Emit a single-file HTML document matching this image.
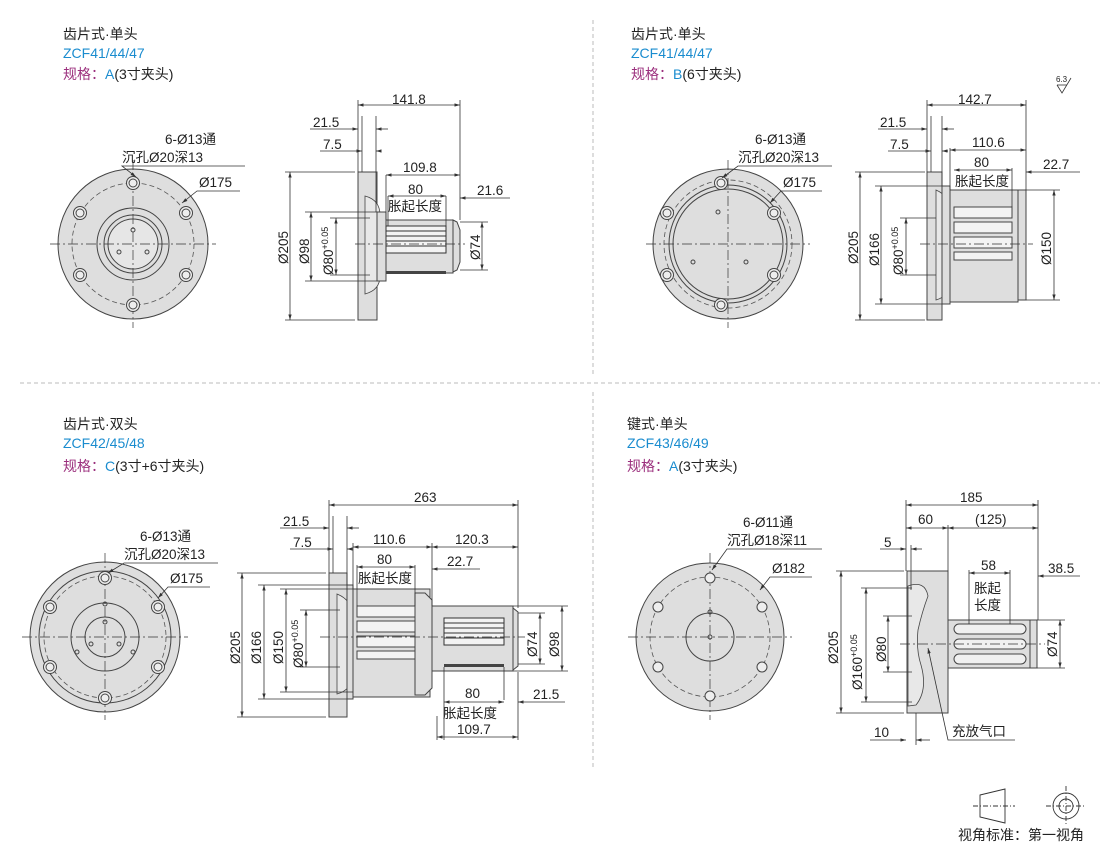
<!DOCTYPE html>
<html><head><meta charset="utf-8"><style>
body{margin:0;background:#fff;width:1110px;height:851px;overflow:hidden}
svg{display:block}
text{font-family:"Liberation Sans","Noto Sans CJK SC",sans-serif;fill:#222}
.t{font-size:14px}
.d{font-size:13.5px}
.b{fill:#1a8ccf}
.p{fill:#9b2f7d}
.ln{stroke:#333;stroke-width:0.8;fill:none}
.ol{stroke:#444;stroke-width:1;fill:#dedede}
.w{stroke:#444;stroke-width:1;fill:#f2f2f2}
.cl{stroke:#333;stroke-width:0.7;stroke-dasharray:10 3 2 3;fill:none}
.dc{stroke:#555;stroke-width:0.8;stroke-dasharray:5 3;fill:none}
.sep{stroke:#bbb;stroke-width:1;stroke-dasharray:4 3}
</style></head><body>
<svg width="1110" height="851" viewBox="0 0 1110 851">
<defs>
<marker id="a" viewBox="0 0 10 10" refX="10" refY="5" markerWidth="7" markerHeight="7" orient="auto-start-reverse"><path d="M0,2L10,5L0,8z" fill="#333"/></marker>
<g id="hole"><circle r="6.5" fill="#eee" stroke="#444"/><circle r="4" fill="none" stroke="#444"/></g>
</defs>
<line x1="20" y1="383" x2="1100" y2="383" class="sep"/>
<line x1="593" y1="20" x2="593" y2="375" class="sep"/>
<line x1="593" y1="392" x2="593" y2="770" class="sep"/>

<!-- Titles -->
<text x="63" y="39" class="t">齿片式·单头</text>
<text x="63" y="58" class="t b">ZCF41/44/47</text>
<text x="63" y="79" class="t p">规格：<tspan class="b">A</tspan><tspan fill="#222">(3寸夹头)</tspan></text>
<text x="631" y="39" class="t">齿片式·单头</text>
<text x="631" y="58" class="t b">ZCF41/44/47</text>
<text x="631" y="79" class="t p">规格：<tspan class="b">B</tspan><tspan fill="#222">(6寸夹头)</tspan></text>
<text x="63" y="429" class="t">齿片式·双头</text>
<text x="63" y="448" class="t b">ZCF42/45/48</text>
<text x="63" y="471" class="t p">规格：<tspan class="b">C</tspan><tspan fill="#222">(3寸+6寸夹头)</tspan></text>
<text x="627" y="429" class="t">键式·单头</text>
<text x="627" y="448" class="t b">ZCF43/46/49</text>
<text x="627" y="471" class="t p">规格：<tspan class="b">A</tspan><tspan fill="#222">(3寸夹头)</tspan></text>

<!-- Q1 front -->
<g>
<circle cx="133" cy="244" r="75" class="ol"/>
<circle cx="133" cy="244" r="61" class="dc"/>
<circle cx="133" cy="244" r="36" class="ol"/>
<circle cx="133" cy="244" r="29" class="ol"/>
<circle cx="133" cy="244" r="25" fill="#e6e6e6" stroke="#444"/>
<line x1="50" y1="244" x2="216" y2="244" class="cl"/>
<line x1="133" y1="160" x2="133" y2="328" class="cl"/>
<use href="#hole" x="133" y="183"/><use href="#hole" x="133" y="305"/>
<use href="#hole" x="80" y="213"/><use href="#hole" x="186" y="213"/>
<use href="#hole" x="80" y="275"/><use href="#hole" x="186" y="275"/>
<circle cx="133" cy="230" r="2" fill="none" stroke="#444"/><circle cx="119" cy="252" r="2" fill="none" stroke="#444"/><circle cx="147" cy="252" r="2" fill="none" stroke="#444"/>
<text x="165" y="144" class="d">6-Ø13通</text>
<text x="122" y="162" class="d">沉孔Ø20深13</text>
<polyline points="245,166 122,166 136,177" class="ln" marker-end="url(#a)"/>
<text x="199" y="187" class="d">Ø175</text>
<polyline points="240,191 197,191 182,203" class="ln" marker-end="url(#a)"/>
</g>
<!-- Q1 side -->
<g>
<rect x="358" y="172" width="19" height="148" class="ol"/>
<path d="M365,196 Q380,200 380,215 L380,276 Q380,290 365,294 Z" fill="#e8e8e8" stroke="#444" stroke-width="0.8"/>
<rect x="377" y="212" width="9" height="69" class="ol"/>
<rect x="386" y="220" width="67" height="53" class="ol"/>
<rect x="386" y="226" width="60" height="27" fill="#f3f3f3" stroke="#333"/>
<g stroke="#333" stroke-width="1"><line x1="386" y1="231" x2="446" y2="231"/><line x1="386" y1="236" x2="446" y2="236"/><line x1="386" y1="241" x2="446" y2="241"/><line x1="386" y1="246" x2="446" y2="246"/></g>
<rect x="386" y="271" width="60" height="3" fill="#444"/>
<path d="M453,220 L457,222 L460,230 L460,262 L457,270 L453,272 Z" class="ol"/>
<line x1="355" y1="244" x2="465" y2="244" class="cl"/>
<line x1="358" y1="100" x2="358" y2="172" class="ln"/><line x1="460" y1="100" x2="460" y2="220" class="ln"/>
<line x1="358" y1="105" x2="460" y2="105" class="ln" marker-start="url(#a)" marker-end="url(#a)"/>
<text x="392" y="104" class="d">141.8</text>
<line x1="362" y1="116" x2="362" y2="172" class="ln"/><line x1="376" y1="116" x2="376" y2="212" class="ln"/>
<line x1="310" y1="129" x2="358" y2="129" class="ln" marker-end="url(#a)"/><line x1="388" y1="129" x2="376" y2="129" class="ln" marker-end="url(#a)"/>
<text x="313" y="127" class="d">21.5</text>
<line x1="320" y1="151" x2="362" y2="151" class="ln" marker-end="url(#a)"/><line x1="381" y1="151" x2="376" y2="151" class="ln" marker-end="url(#a)"/>
<text x="323" y="149" class="d">7.5</text>
<line x1="386" y1="175" x2="386" y2="220" class="ln"/>
<line x1="386" y1="175" x2="460" y2="175" class="ln" marker-start="url(#a)" marker-end="url(#a)"/>
<text x="403" y="172" class="d">109.8</text>
<line x1="388" y1="196" x2="446" y2="196" class="ln" marker-start="url(#a)" marker-end="url(#a)"/>
<line x1="388" y1="196" x2="388" y2="226" class="ln"/><line x1="446" y1="196" x2="446" y2="226" class="ln"/>
<text x="408" y="194" class="d">80</text>
<text x="388" y="211" class="d">胀起长度</text>
<line x1="510" y1="198" x2="460" y2="198" class="ln" marker-end="url(#a)"/>
<text x="477" y="195" class="d">21.6</text>
<line x1="355" y1="172" x2="285" y2="172" class="ln"/><line x1="355" y1="320" x2="285" y2="320" class="ln"/>
<line x1="290" y1="172" x2="290" y2="320" class="ln" marker-start="url(#a)" marker-end="url(#a)"/>
<text transform="translate(288,264) rotate(-90)" class="d">Ø205</text>
<line x1="377" y1="212" x2="305" y2="212" class="ln"/><line x1="377" y1="281" x2="305" y2="281" class="ln"/>
<line x1="311" y1="212" x2="311" y2="281" class="ln" marker-start="url(#a)" marker-end="url(#a)"/>
<text transform="translate(309,264) rotate(-90)" class="d">Ø98</text>
<line x1="370" y1="218" x2="330" y2="218" class="ln"/><line x1="370" y1="275" x2="330" y2="275" class="ln"/>
<line x1="336" y1="218" x2="336" y2="275" class="ln" marker-start="url(#a)" marker-end="url(#a)"/>
<text transform="translate(333,275) rotate(-90)" class="d">Ø80<tspan font-size="9" dy="-5">+0.05</tspan></text>
<line x1="460" y1="222" x2="488" y2="222" class="ln"/><line x1="460" y1="270" x2="488" y2="270" class="ln"/>
<line x1="482" y1="222" x2="482" y2="270" class="ln" marker-start="url(#a)" marker-end="url(#a)"/>
<text transform="translate(480,260) rotate(-90)" class="d">Ø74</text>
</g>

<!-- Q2 front -->
<g>
<circle cx="728" cy="244" r="75" class="ol"/>
<circle cx="728" cy="244" r="64" class="dc"/>
<circle cx="728" cy="244" r="59" class="ol"/>
<circle cx="728" cy="244" r="55" class="ol"/>
<line x1="646" y1="244" x2="810" y2="244" class="cl"/>
<line x1="728" y1="160" x2="728" y2="328" class="cl"/>
<use href="#hole" x="721" y="183"/><use href="#hole" x="721" y="305"/>
<use href="#hole" x="667" y="213"/><use href="#hole" x="774" y="275"/>
<use href="#hole" x="667" y="275"/><use href="#hole" x="774" y="213"/>
<circle cx="718" cy="212" r="2" fill="none" stroke="#444"/><circle cx="693" cy="262" r="2" fill="none" stroke="#444"/><circle cx="746" cy="262" r="2" fill="none" stroke="#444"/>
<text x="755" y="144" class="d">6-Ø13通</text>
<text x="738" y="162" class="d">沉孔Ø20深13</text>
<polyline points="832,166 738,166 722,178" class="ln" marker-end="url(#a)"/>
<text x="783" y="187" class="d">Ø175</text>
<polyline points="822,191 781,191 770,203" class="ln" marker-end="url(#a)"/>
</g>
<!-- Q2 side -->
<g>
<rect x="927" y="172" width="15" height="148" class="ol"/>
<path d="M936,190 Q950,196 950,212 L950,282 Q950,296 936,300 Z" fill="#e8e8e8" stroke="#444" stroke-width="0.8"/>
<rect x="942" y="186" width="8" height="118" class="ol"/>
<rect x="950" y="190" width="68" height="112" class="ol"/>
<g stroke="#444" fill="#f3f3f3"><rect x="954" y="207" width="58" height="11"/><rect x="954" y="222" width="58" height="11"/><rect x="954" y="237" width="58" height="11"/><rect x="954" y="252" width="58" height="8"/></g>
<rect x="1018" y="190" width="8" height="110" class="ol"/>
<line x1="920" y1="244" x2="1033" y2="244" class="cl"/>
<line x1="927" y1="100" x2="927" y2="172" class="ln"/><line x1="1026" y1="100" x2="1026" y2="190" class="ln"/>
<line x1="927" y1="105" x2="1026" y2="105" class="ln" marker-start="url(#a)" marker-end="url(#a)"/>
<text x="958" y="104" class="d">142.7</text>
<line x1="931" y1="116" x2="931" y2="172" class="ln"/><line x1="942" y1="116" x2="942" y2="186" class="ln"/>
<line x1="878" y1="129" x2="927" y2="129" class="ln" marker-end="url(#a)"/><line x1="954" y1="129" x2="942" y2="129" class="ln" marker-end="url(#a)"/>
<text x="880" y="127" class="d">21.5</text>
<line x1="888" y1="151" x2="931" y2="151" class="ln" marker-end="url(#a)"/><line x1="948" y1="151" x2="942" y2="151" class="ln" marker-end="url(#a)"/>
<text x="890" y="149" class="d">7.5</text>
<line x1="950" y1="148" x2="950" y2="190" class="ln"/>
<line x1="950" y1="150" x2="1026" y2="150" class="ln" marker-start="url(#a)" marker-end="url(#a)"/>
<text x="972" y="147" class="d">110.6</text>
<line x1="954" y1="170" x2="1012" y2="170" class="ln" marker-start="url(#a)" marker-end="url(#a)"/>
<line x1="1012" y1="168" x2="1012" y2="207" class="ln"/>
<text x="974" y="167" class="d">80</text>
<text x="955" y="186" class="d">胀起长度</text>
<line x1="1080" y1="172" x2="1026" y2="172" class="ln" marker-end="url(#a)"/>
<text x="1043" y="169" class="d">22.7</text>
<line x1="925" y1="172" x2="855" y2="172" class="ln"/><line x1="925" y1="320" x2="855" y2="320" class="ln"/>
<line x1="860" y1="172" x2="860" y2="320" class="ln" marker-start="url(#a)" marker-end="url(#a)"/>
<text transform="translate(858,264) rotate(-90)" class="d">Ø205</text>
<line x1="942" y1="186" x2="875" y2="186" class="ln"/><line x1="942" y1="304" x2="875" y2="304" class="ln"/>
<line x1="881" y1="186" x2="881" y2="304" class="ln" marker-start="url(#a)" marker-end="url(#a)"/>
<text transform="translate(879,266) rotate(-90)" class="d">Ø166</text>
<line x1="936" y1="218" x2="900" y2="218" class="ln"/><line x1="936" y1="275" x2="900" y2="275" class="ln"/>
<line x1="906" y1="218" x2="906" y2="275" class="ln" marker-start="url(#a)" marker-end="url(#a)"/>
<text transform="translate(903,275) rotate(-90)" class="d">Ø80<tspan font-size="9" dy="-5">+0.05</tspan></text>
<line x1="1026" y1="190" x2="1060" y2="190" class="ln"/><line x1="1026" y1="300" x2="1060" y2="300" class="ln"/>
<line x1="1054" y1="190" x2="1054" y2="300" class="ln" marker-start="url(#a)" marker-end="url(#a)"/>
<text transform="translate(1051,265) rotate(-90)" class="d">Ø150</text>
<text x="1056" y="82" font-size="8">6.3</text>
<polyline points="1057,85 1062,93 1071,78" fill="none" stroke="#333" stroke-width="0.8"/>
<line x1="1057" y1="85" x2="1067" y2="85" stroke="#333" stroke-width="0.8"/>
</g>

<!-- Q3 front -->
<g>
<circle cx="105" cy="637" r="75" class="ol"/>
<circle cx="105" cy="637" r="66" class="ol"/>
<circle cx="105" cy="637" r="61" class="dc"/>
<circle cx="105" cy="637" r="34" class="ol"/>
<circle cx="105" cy="637" r="20" class="ol"/>
<line x1="22" y1="637" x2="188" y2="637" class="cl"/>
<line x1="105" y1="553" x2="105" y2="720" class="cl"/>
<use href="#hole" x="105" y="578"/><use href="#hole" x="105" y="698"/>
<use href="#hole" x="50" y="607"/><use href="#hole" x="158" y="607"/>
<use href="#hole" x="50" y="667"/><use href="#hole" x="158" y="667"/>
<circle cx="105" cy="604" r="2" fill="none" stroke="#444"/><circle cx="77" cy="652" r="2" fill="none" stroke="#444"/><circle cx="133" cy="652" r="2" fill="none" stroke="#444"/>
<circle cx="105" cy="622" r="2" fill="none" stroke="#444"/><circle cx="91" cy="644" r="2" fill="none" stroke="#444"/><circle cx="119" cy="644" r="2" fill="none" stroke="#444"/>
<text x="140" y="541" class="d">6-Ø13通</text>
<text x="124" y="559" class="d">沉孔Ø20深13</text>
<polyline points="218,563 124,563 108,573" class="ln" marker-end="url(#a)"/>
<text x="170" y="583" class="d">Ø175</text>
<polyline points="210,587 168,587 158,598" class="ln" marker-end="url(#a)"/>
</g>
<!-- Q3 side -->
<g>
<rect x="329" y="573" width="18" height="144" class="ol"/>
<path d="M337,594 Q352,600 352,615 L352,675 Q352,690 337,694 Z" fill="#e8e8e8" stroke="#444" stroke-width="0.8"/>
<rect x="347" y="585" width="6" height="114" class="ol"/>
<rect x="353" y="589" width="77" height="108" class="ol"/>
<g stroke="#444" fill="#f3f3f3"><rect x="357" y="606" width="58" height="11"/><rect x="357" y="621" width="58" height="11"/><rect x="357" y="636" width="58" height="11"/><rect x="357" y="651" width="58" height="8"/></g>
<path d="M415,593 L425,593 L432,600 L432,688 L425,695 L415,695 Z" class="ol"/>
<rect x="432" y="606" width="81" height="65" class="ol"/>
<rect x="444" y="618" width="60" height="27" fill="#f3f3f3" stroke="#333"/>
<g stroke="#333"><line x1="444" y1="623" x2="504" y2="623"/><line x1="444" y1="628" x2="504" y2="628"/><line x1="444" y1="633" x2="504" y2="633"/><line x1="444" y1="638" x2="504" y2="638"/></g>
<rect x="444" y="664" width="60" height="3" fill="#444"/>
<path d="M513,608 L518,612 L518,666 L513,670 Z" class="ol"/>
<line x1="320" y1="637" x2="525" y2="637" class="cl"/>
<line x1="329" y1="500" x2="329" y2="573" class="ln"/><line x1="518" y1="500" x2="518" y2="608" class="ln"/>
<line x1="329" y1="505" x2="518" y2="505" class="ln" marker-start="url(#a)" marker-end="url(#a)"/>
<text x="414" y="502" class="d">263</text>
<line x1="333" y1="516" x2="333" y2="573" class="ln"/><line x1="347" y1="516" x2="347" y2="585" class="ln"/>
<line x1="280" y1="528" x2="329" y2="528" class="ln" marker-end="url(#a)"/><line x1="359" y1="528" x2="347" y2="528" class="ln" marker-end="url(#a)"/>
<text x="283" y="526" class="d">21.5</text>
<line x1="290" y1="549" x2="333" y2="549" class="ln" marker-end="url(#a)"/><line x1="352" y1="549" x2="347" y2="549" class="ln" marker-end="url(#a)"/>
<text x="293" y="547" class="d">7.5</text>
<line x1="353" y1="543" x2="353" y2="589" class="ln"/><line x1="432" y1="543" x2="432" y2="606" class="ln"/>
<line x1="353" y1="547" x2="432" y2="547" class="ln" marker-start="url(#a)" marker-end="url(#a)"/>
<line x1="432" y1="547" x2="518" y2="547" class="ln" marker-start="url(#a)" marker-end="url(#a)"/>
<text x="373" y="544" class="d">110.6</text><text x="455" y="544" class="d">120.3</text>
<line x1="357" y1="567" x2="415" y2="567" class="ln" marker-start="url(#a)" marker-end="url(#a)"/>
<line x1="415" y1="565" x2="415" y2="606" class="ln"/><line x1="357" y1="565" x2="357" y2="606" class="ln"/>
<text x="377" y="564" class="d">80</text>
<text x="358" y="583" class="d">胀起长度</text>
<line x1="480" y1="569" x2="432" y2="569" class="ln" marker-end="url(#a)"/>
<text x="447" y="566" class="d">22.7</text>
<line x1="444" y1="667" x2="444" y2="740" class="ln"/><line x1="504" y1="667" x2="504" y2="700" class="ln"/><line x1="518" y1="672" x2="518" y2="740" class="ln"/>
<line x1="444" y1="702" x2="504" y2="702" class="ln" marker-start="url(#a)" marker-end="url(#a)"/>
<text x="465" y="698" class="d">80</text>
<text x="443" y="718" class="d">胀起长度</text>
<line x1="565" y1="702" x2="518" y2="702" class="ln" marker-end="url(#a)"/>
<text x="533" y="699" class="d">21.5</text>
<line x1="437" y1="737" x2="518" y2="737" class="ln" marker-start="url(#a)" marker-end="url(#a)"/>
<line x1="437" y1="716" x2="437" y2="740" class="ln"/>
<text x="457" y="734" class="d">109.7</text>
<line x1="326" y1="573" x2="237" y2="573" class="ln"/><line x1="326" y1="717" x2="237" y2="717" class="ln"/>
<line x1="242" y1="573" x2="242" y2="717" class="ln" marker-start="url(#a)" marker-end="url(#a)"/>
<text transform="translate(240,664) rotate(-90)" class="d">Ø205</text>
<line x1="347" y1="585" x2="258" y2="585" class="ln"/><line x1="347" y1="699" x2="258" y2="699" class="ln"/>
<line x1="264" y1="585" x2="264" y2="699" class="ln" marker-start="url(#a)" marker-end="url(#a)"/>
<text transform="translate(261,664) rotate(-90)" class="d">Ø166</text>
<line x1="353" y1="589" x2="280" y2="589" class="ln"/><line x1="353" y1="692" x2="280" y2="692" class="ln"/>
<line x1="286" y1="589" x2="286" y2="692" class="ln" marker-start="url(#a)" marker-end="url(#a)"/>
<text transform="translate(283,664) rotate(-90)" class="d">Ø150</text>
<line x1="340" y1="610" x2="300" y2="610" class="ln"/><line x1="340" y1="667" x2="300" y2="667" class="ln"/>
<line x1="306" y1="610" x2="306" y2="667" class="ln" marker-start="url(#a)" marker-end="url(#a)"/>
<text transform="translate(303,668) rotate(-90)" class="d">Ø80<tspan font-size="9" dy="-5">+0.05</tspan></text>
<line x1="518" y1="613" x2="545" y2="613" class="ln"/><line x1="518" y1="664" x2="545" y2="664" class="ln"/>
<line x1="540" y1="613" x2="540" y2="664" class="ln" marker-start="url(#a)" marker-end="url(#a)"/>
<text transform="translate(537,657) rotate(-90)" class="d">Ø74</text>
<line x1="513" y1="606" x2="568" y2="606" class="ln"/><line x1="513" y1="671" x2="568" y2="671" class="ln"/>
<line x1="562" y1="606" x2="562" y2="671" class="ln" marker-start="url(#a)" marker-end="url(#a)"/>
<text transform="translate(559,657) rotate(-90)" class="d">Ø98</text>
</g>

<!-- Q4 front -->
<g>
<circle cx="710" cy="637" r="74" class="ol"/>
<circle cx="710" cy="637" r="60" class="dc"/>
<circle cx="710" cy="637" r="24" class="ol"/>
<line x1="628" y1="637" x2="792" y2="637" class="cl"/>
<line x1="710" y1="553" x2="710" y2="720" class="cl"/>
<g fill="#eee" stroke="#444"><circle cx="710" cy="578" r="5"/><circle cx="710" cy="696" r="5"/><circle cx="658" cy="607" r="5"/><circle cx="762" cy="607" r="5"/><circle cx="658" cy="667" r="5"/><circle cx="762" cy="667" r="5"/></g>
<circle cx="710" cy="612" r="2" fill="none" stroke="#444"/><circle cx="710" cy="637" r="2" fill="none" stroke="#444"/>
<text x="743" y="527" class="d">6-Ø11通</text>
<text x="727" y="545" class="d">沉孔Ø18深11</text>
<polyline points="822,549 727,549 712,570" class="ln" marker-end="url(#a)"/>
<text x="772" y="573" class="d">Ø182</text>
<polyline points="812,577 770,577 760,590" class="ln" marker-end="url(#a)"/>
</g>
<!-- Q4 side -->
<g>
<rect x="907" y="571" width="41" height="142" class="ol"/>
<path d="M908,586 Q925,580 928,596 Q922,612 918,630 Q916,650 921,665 Q928,690 916,705 L908,706 Z" fill="#e8e8e8" stroke="#444" stroke-width="0.8"/>
<rect x="948" y="620" width="82" height="48" class="ol"/>
<g fill="#f0f0f0" stroke="#444"><rect x="954" y="624" width="72" height="10" rx="5"/><rect x="954" y="639" width="72" height="10" rx="5"/><rect x="954" y="654" width="72" height="10" rx="5"/></g>
<rect x="1030" y="620" width="7" height="48" class="ol"/>
<line x1="900" y1="644" x2="1045" y2="644" class="cl"/>
<line x1="906" y1="500" x2="906" y2="571" class="ln"/><line x1="1038" y1="500" x2="1038" y2="620" class="ln"/>
<line x1="906" y1="505" x2="1038" y2="505" class="ln" marker-start="url(#a)" marker-end="url(#a)"/>
<text x="960" y="502" class="d">185</text>
<line x1="948" y1="525" x2="948" y2="571" class="ln"/>
<line x1="906" y1="528" x2="948" y2="528" class="ln" marker-start="url(#a)" marker-end="url(#a)"/>
<line x1="948" y1="528" x2="1038" y2="528" class="ln" marker-start="url(#a)" marker-end="url(#a)"/>
<text x="918" y="524" class="d">60</text><text x="975" y="524" class="d">(125)</text>
<line x1="880" y1="549" x2="906" y2="549" class="ln" marker-end="url(#a)"/><line x1="922" y1="549" x2="911" y2="549" class="ln" marker-end="url(#a)"/>
<line x1="911" y1="545" x2="911" y2="590" class="ln"/>
<text x="884" y="547" class="d">5</text>
<line x1="969" y1="573" x2="1010" y2="573" class="ln" marker-start="url(#a)" marker-end="url(#a)"/>
<line x1="969" y1="570" x2="969" y2="624" class="ln"/><line x1="1010" y1="570" x2="1010" y2="624" class="ln"/>
<text x="981" y="570" class="d">58</text>
<text x="974" y="593" class="d">胀起</text><text x="974" y="610" class="d">长度</text>
<line x1="1080" y1="576" x2="1038" y2="576" class="ln" marker-end="url(#a)"/>
<text x="1048" y="573" class="d">38.5</text>
<line x1="904" y1="571" x2="836" y2="571" class="ln"/><line x1="904" y1="713" x2="836" y2="713" class="ln"/>
<line x1="841" y1="571" x2="841" y2="713" class="ln" marker-start="url(#a)" marker-end="url(#a)"/>
<text transform="translate(838,664) rotate(-90)" class="d">Ø205</text>
<line x1="912" y1="588" x2="861" y2="588" class="ln"/><line x1="912" y1="702" x2="861" y2="702" class="ln"/>
<line x1="866" y1="588" x2="866" y2="702" class="ln" marker-start="url(#a)" marker-end="url(#a)"/>
<text transform="translate(862,690) rotate(-90)" class="d">Ø160<tspan font-size="9" dy="-5">+0.05</tspan></text>
<line x1="912" y1="616" x2="883" y2="616" class="ln"/><line x1="912" y1="672" x2="883" y2="672" class="ln"/>
<line x1="888" y1="616" x2="888" y2="672" class="ln" marker-start="url(#a)" marker-end="url(#a)"/>
<text transform="translate(886,662) rotate(-90)" class="d">Ø80</text>
<line x1="1037" y1="620" x2="1065" y2="620" class="ln"/><line x1="1037" y1="668" x2="1065" y2="668" class="ln"/>
<line x1="1060" y1="620" x2="1060" y2="668" class="ln" marker-start="url(#a)" marker-end="url(#a)"/>
<text transform="translate(1057,657) rotate(-90)" class="d">Ø74</text>
<line x1="916" y1="713" x2="916" y2="745" class="ln"/>
<line x1="870" y1="740" x2="906" y2="740" class="ln" marker-end="url(#a)"/><line x1="930" y1="740" x2="916" y2="740" class="ln" marker-end="url(#a)"/>
<text x="874" y="737" class="d">10</text>
<polyline points="1015,740 948,740 928,648" class="ln" marker-end="url(#a)"/>
<text x="952" y="736" class="d">充放气口</text>
</g>

<!-- view symbol -->
<g stroke="#333" fill="none" stroke-width="0.9">
<polygon points="980,795 1005,789 1005,823 980,817"/>
<line x1="973" y1="806" x2="1015" y2="806" stroke-dasharray="5 2 1 2"/>
<circle cx="1066" cy="806" r="13"/><circle cx="1066" cy="806" r="7"/>
<line x1="1046" y1="806" x2="1086" y2="806" stroke-dasharray="5 2 1 2"/>
<line x1="1066" y1="786" x2="1066" y2="826" stroke-dasharray="5 2 1 2"/>
</g>
<text x="958" y="840" class="t">视角标准：第一视角</text>
</svg>
</body></html>
